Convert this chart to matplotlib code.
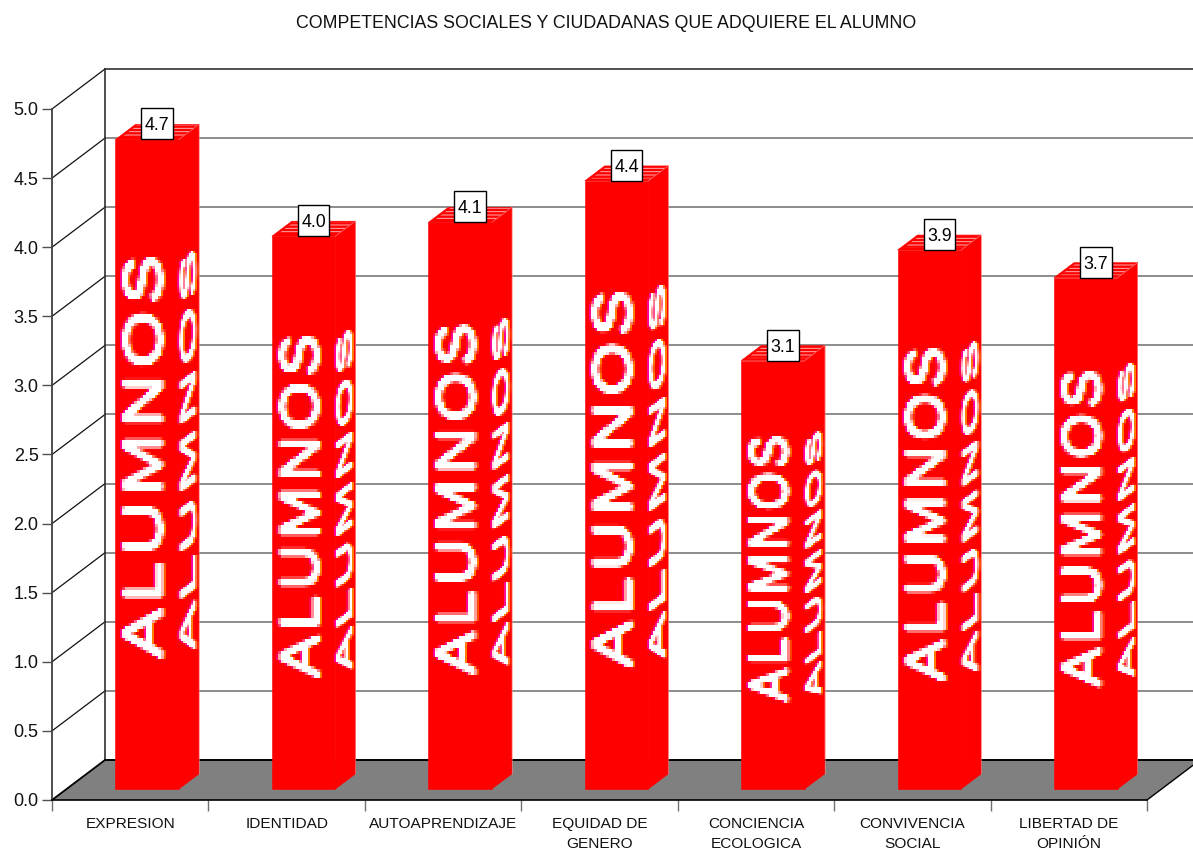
import matplotlib
matplotlib.use("Agg")
import numpy as np
import matplotlib.pyplot as plt
from matplotlib.patches import Polygon, Rectangle
from matplotlib.patheffects import AbstractPathEffect
from matplotlib.textpath import TextPath
from matplotlib.font_manager import FontProperties
from matplotlib.transforms import Affine2D

categories = ["EXPRESION", "IDENTIDAD", "AUTOAPRENDIZAJE", "EQUIDAD DE\nGENERO",
              "CONCIENCIA\nECOLOGICA", "CONVIVENCIA\nSOCIAL", "LIBERTAD DE\nOPINIÓN"]
values = [4.7, 4.0, 4.1, 4.4, 3.1, 3.9, 3.7]
y_ticks = [0.0, 0.5, 1.0, 1.5, 2.0, 2.5, 3.0, 3.5, 4.0, 4.5, 5.0]
title = "COMPETENCIAS SOCIALES Y CIUDADANAS QUE ADQUIERE EL ALUMNO"
bar_text = "\u200a".join("ALUMNOS")

W, H = 1193, 850
FAMILIES = ["Liberation Sans", "DejaVu Sans"]
plt.rcParams["font.family"] = FAMILIES
plt.rcParams["hatch.linewidth"] = 0.7

fig = plt.figure(figsize=(W / 100, H / 100), dpi=100, facecolor="white")
LEFT, RIGHT, FLOOR, TOP = 52, 1147, 800, 109
ax = fig.add_axes([LEFT / W, 1 - FLOOR / H, (RIGHT - LEFT) / W, (FLOOR - TOP) / H])
ax.set_xlim(0, len(categories))
ax.set_ylim(0, 5)
ax.patch.set_visible(False)

PXX = (RIGHT - LEFT) / len(categories)   # pixels per category
PXY = (FLOOR - TOP) / 5                  # pixels per value unit
DX, DY = 53 / PXX, 40 / PXY              # full depth of the 3D box
BAR_D0 = 0.275
BAR_DS = 0.375
BAR_OFF = 48.9 / PXX
BAR_W = 63.5 / PXX


def P(x, y, d=0.0):
    return (x + d * DX, y + d * DY)


class Warp(AbstractPathEffect):
    """Stretches and shears the glyph outlines of a real Text artist."""

    def __init__(self, sx, k=0.0, stroke=0.0):
        super().__init__()
        self.m = [[sx, k, 0], [0, 1, 0], [0, 0, 1]]
        self.stroke = stroke

    def draw_path(self, renderer, gc, tpath, affine, rgbFace=None):
        tr = Affine2D(self.m) + affine
        g = renderer.new_gc()
        g.copy_properties(gc)
        g.set_linewidth(self.stroke)
        g.set_foreground("white")
        renderer.draw_path(g, tpath, tr, rgbFace)
        g.restore()


def make_blocky(block):
    def blocky(img, dpi, pad=6):
        """Low-resolution look of the lettering, with coloured edge pixels."""
        a = np.pad(img[..., 3], pad)
        h, w = a.shape
        h2, w2 = h // block + 1, w // block + 1
        b = np.zeros((h2 * block, w2 * block))
        b[:h, :w] = a
        b = b.reshape(h2, block, w2, block).mean(axis=(1, 3))
        b = np.clip((b - 0.2) / 0.45, 0, 1)
        b = np.repeat(np.repeat(b, block, axis=0), block, axis=1)
        ag = np.maximum(b, 0.5 * np.roll(b, 2, axis=1))
        ab = np.maximum(b, 0.6 * np.roll(b, -2, axis=1))
        al = np.maximum(ag, ab)
        out = np.ones(b.shape + (4,))
        safe = np.where(al > 0, al, 1)
        out[..., 1] = ag / safe
        out[..., 2] = ab / safe
        out[..., 3] = al
        return out, -pad, -pad
    return blocky


# --- walls and floor
far = 7.4
ax.add_patch(Polygon([P(0, 0), P(7, 0), P(7, 0, 1), P(0, 0, 1)],
                     closed=True, fc="#808080", ec="none", zorder=1, clip_on=False))
for t in y_ticks[1:]:
    ax.plot(*zip(P(0, t, 1), P(far, t, 1)), color="#6e6e6e" if t < 5 else "#202020",
            lw=1.1, zorder=1.2, clip_on=False)
    ax.plot(*zip(P(0, t, 0), P(0, t, 1)), color="#111111", lw=0.9, zorder=1.2, clip_on=False)
ax.plot(*zip(P(0, 0, 1), P(0, 5, 1)), color="#303030", lw=1.2, zorder=1.3, clip_on=False)
ax.plot(*zip(P(0, 0, 0), P(0, 0, 1)), color="black", lw=1.3, zorder=1.3, clip_on=False)
ax.plot(*zip(P(0, 0, 1), P(far, 0, 1)), color="black", lw=1.4, zorder=1.3, clip_on=False)
ax.plot(*zip(P(7, 0, 0), P(7, 0, 1)), color="black", lw=1.0, zorder=1.3, clip_on=False)

# --- bars
FS_FRONT = 39
FS_SIDE = 15
natural = TextPath((0, 0), bar_text, prop=FontProperties(family=FAMILIES, size=100)).get_extents().width * 100 / 72 / 100

for i, v in enumerate(values):
    x0 = i + BAR_OFF
    x1 = x0 + BAR_W
    d0, d1 = BAR_D0, BAR_D0 + BAR_DS
    z = 3 + i * 0.01
    kw = dict(closed=True, fc="#ff0000", ec="#ff0000", lw=0.4, zorder=z, clip_on=False)
    ax.add_patch(Polygon([P(x0, 0, d0), P(x1, 0, d0), P(x1, v, d0), P(x0, v, d0)], **kw))
    ax.add_patch(Polygon([P(x1, 0, d0), P(x1, 0, d1), P(x1, v, d1), P(x1, v, d0)], **kw))
    ax.add_patch(Polygon([P(x0, v, d0), P(x1, v, d0), P(x1, v, d1), P(x0, v, d1)], **kw))
    # squeezed texture on the top face
    ax.add_patch(Polygon([P(x0 + 0.02, v, d0 + 0.06), P(x1, v, d0 + 0.06), P(x1, v, d1 - 0.02), P(x0 + 0.02, v, d1 - 0.02)],
                         closed=True, fc="none", ec="#ffb0b0", lw=0, hatch="-----",
                         zorder=z + 0.001, clip_on=False))
    ax.plot(*zip(P(x1, v, d0), P(x1, v, d1)), color="#ff6060", lw=0.6, zorder=z + 0.002, clip_on=False)
    ax.plot(*zip(P(x1, 0, d1), P(x1, v, d1)), color="#ff8080", lw=0.4, zorder=z + 0.002, clip_on=False)

    # stretched lettering
    length = 0.615 * v * PXY
    tx, ty = P(x0 + 46 / PXX, 0.2 * v - 1 / PXY, d0)
    ax.text(tx, ty, bar_text, rotation=90, rotation_mode="anchor", ha="left", va="baseline",
            fontsize=FS_FRONT, color="white", zorder=z + 0.01, clip_on=False, agg_filter=make_blocky(3),
            path_effects=[Warp(length / (natural * FS_FRONT), stroke=1.6)])
    tx, ty = P(x1 + 16 / PXX, 0.2 * v + 9 / PXY, d0)
    ax.text(tx, ty, bar_text, rotation=90, rotation_mode="anchor", ha="left", va="baseline",
            fontsize=FS_SIDE, color="white", zorder=z + 0.01, clip_on=False, agg_filter=make_blocky(2),
            path_effects=[Warp(length / (natural * FS_SIDE), k=-0.75, stroke=1.0)])

    # value box
    bw, bh = 31.5 / PXX, 31 / PXY
    cx = (x0 + x1) / 2 + 10 / PXX
    bx, by = P(cx - bw / 2, v, d0)
    ax.add_patch(Rectangle((bx, by), bw, bh, fc="white", ec="black", lw=1.0, zorder=z + 0.02, clip_on=False))
    ax.text(bx + bw / 2, by + bh / 2, f"{v:.1f}", ha="center", va="center_baseline", fontsize=12.8,
            color="black", zorder=z + 0.03)

# --- axes
for s in ("top", "right"):
    ax.spines[s].set_visible(False)
ax.spines["left"].set_color("#404040")
ax.spines["left"].set_linewidth(1.3)
ax.spines["bottom"].set_color("black")
ax.spines["bottom"].set_linewidth(1.2)
ax.spines["left"].set_zorder(2)
ax.spines["bottom"].set_zorder(2)
ax.set_yticks(y_ticks)
ax.set_yticklabels([f"{t:.1f}" for t in y_ticks], fontsize=13, color="#111111")
ax.tick_params(axis="y", length=7.2, width=1.0, color="#505050", pad=2.5)
ax.set_xticks(range(len(categories) + 1))
ax.set_xticklabels([])
ax.tick_params(axis="x", which="major", length=8, width=1.0, color="#707070")
ax.set_xticks([i + 0.5 for i in range(len(categories))], minor=True)
ax.set_xticklabels(categories, minor=True, fontsize=11.1, color="#111111", linespacing=1.6)
ax.tick_params(axis="x", which="minor", length=0, pad=12)

fig.text(606 / W, 1 - 23 / H, title, ha="center", va="center", fontsize=12.75, color="#111111")

fig.savefig("out.png", dpi=100)
